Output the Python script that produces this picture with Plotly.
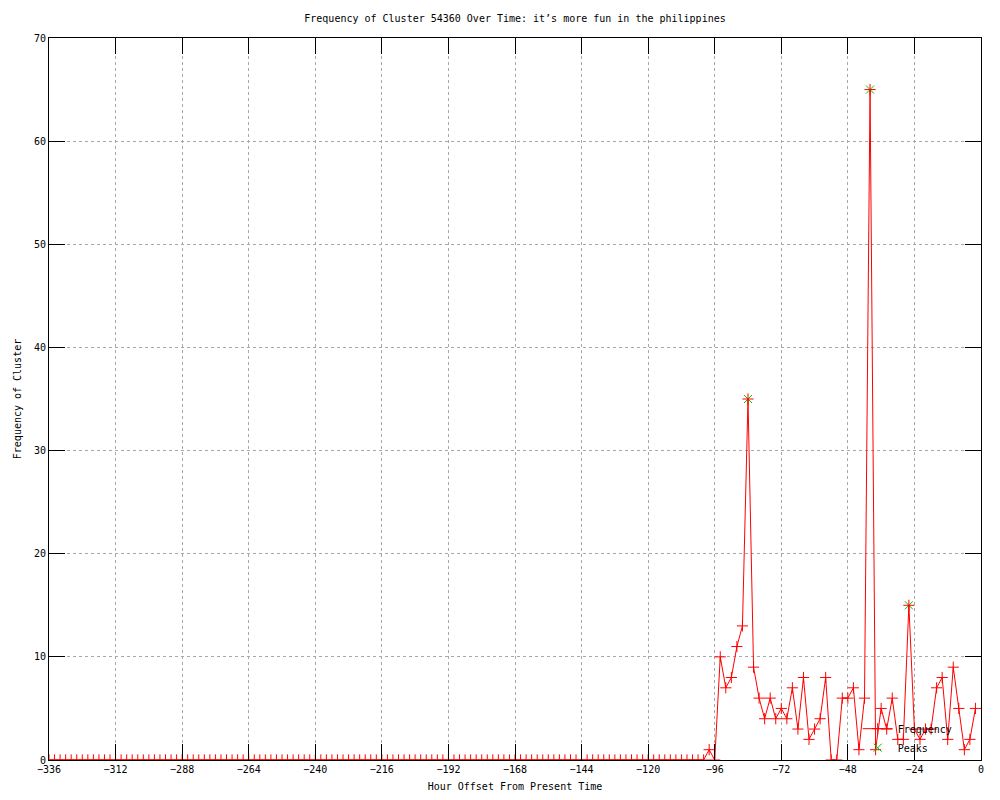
import plotly.graph_objects as go

hours = list(range(-336, 0, 2))
freq = [0] * 119 + [
    1, 0, 10, 7, 8, 11, 13, 35, 9, 6, 4, 6, 4, 5, 4, 7, 3, 8, 2, 3, 4, 8,
    0, 0, 6, 6, 7, 1, 6, 65, 1, 5, 3, 6, 2, 2, 15, 3, 2, 3, 3, 7, 8, 2, 9,
    5, 1, 2, 5,
]
peak_hours = [-84, -40, -26]
peak_vals = [35, 65, 15]

x_ticks = list(range(-336, 1, 24))
y_ticks = list(range(0, 71, 10))

FONT = "DejaVu Sans Mono"

fig = go.Figure()
fig.add_trace(go.Scatter(
    x=peak_hours, y=peak_vals, mode="markers", name="Peaks",
    marker=dict(symbol="x-thin-open", size=8, color="#00c000",
                line=dict(color="#00c000", width=1)),
    legendrank=2,
))
fig.add_trace(go.Scatter(
    x=hours, y=freq, mode="lines+markers", name="Frequency",
    line=dict(color="#ff0000", width=1),
    marker=dict(symbol="cross-thin-open", size=8, color="#ff0000",
                line=dict(color="#ff0000", width=1)),
    legendrank=1,
))

axis_common = dict(
    showline=True, linecolor="black", linewidth=1, mirror="allticks",
    ticks="inside", ticklen=16, tickcolor="black", tickwidth=1,
    showgrid=True, gridcolor="#a8a8a8", griddash="dot", gridwidth=1,
    zeroline=False, automargin=False,
    tickfont=dict(family=FONT, size=10, color="black"),
)

# page body has an 8px default margin; margins below compensate for it
fig.update_layout(
    width=1000, height=800,
    paper_bgcolor="white", plot_bgcolor="white",
    margin=dict(l=41, r=27, t=30, b=48, autoexpand=False),
    font=dict(family=FONT, size=10, color="black"),
    title=dict(
        text="Frequency of Cluster 54360 Over Time: it\u2019s more fun in the philippines",
        x=0.5, xref="paper", xanchor="center",
        y=1 - 10 / 800, yref="container", yanchor="middle",
        font=dict(family=FONT, size=10, color="black"),
    ),
    xaxis=dict(
        range=[-336, 0], tickvals=x_ticks,
        title=dict(text="Hour Offset From Present Time", standoff=8,
                   font=dict(family=FONT, size=10)),
        **axis_common,
    ),
    yaxis=dict(
        range=[0, 70], tickvals=y_ticks,
        title=dict(text="Frequency of Cluster", standoff=10,
                   font=dict(family=FONT, size=10)),
        **axis_common,
    ),
    showlegend=True,
    legend=dict(
        x=0.975, y=-0.003, xanchor="right", yanchor="bottom",
        bgcolor="rgba(0,0,0,0)", borderwidth=0,
        font=dict(family=FONT, size=10, color="black"),
        tracegroupgap=0, itemsizing="trace",
    ),
)

fig.write_html("out.html")
